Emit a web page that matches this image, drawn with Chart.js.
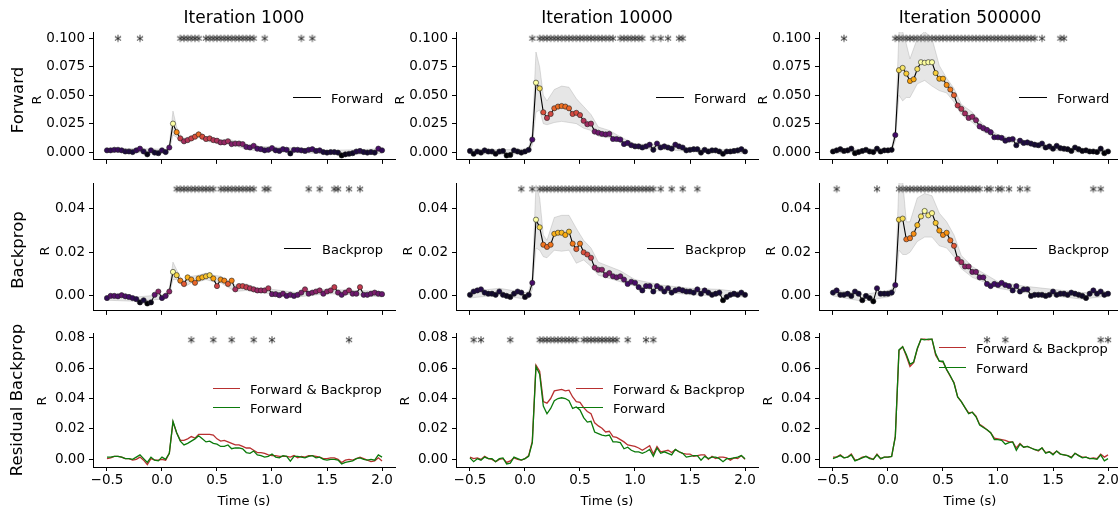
<!DOCTYPE html>
<html>
<head>
<meta charset="utf-8">
<script src="https://cdn.jsdelivr.net/npm/chart.js@4.4.0/dist/chart.umd.min.js"></script>
<style>
  body { margin: 0; width: 1118px; height: 508px; overflow: hidden; background: #fff; position: relative; font-family: "DejaVu Sans", sans-serif; }
  canvas { position: absolute; }
  .lbl { position: absolute; white-space: nowrap; color: #000; line-height: 1; }
  .leg { position: absolute; height: 0; }
</style>
</head>
<body>
<script>
// time grid: 76 samples, -0.5 s .. 2.0 s
const times = Array.from({ length: 76 }, (_, i) => -0.5 + i / 30);
const xTicks = [-0.5, 0, 0.5, 1, 1.5, 2];
const iterations = ['Iteration 1000', 'Iteration 10000', 'Iteration 500000'];
const rowNames = ['Forward', 'Backprop', 'Residual Backprop'];
const yTicksForward = [0, 0.025, 0.05, 0.075, 0.1];
const yTicksBackprop = [0, 0.02, 0.04];
const yTicksResidual = [0, 0.02, 0.04, 0.06, 0.08];

// Forward R (mean)
const fwd1000 = [0.0015,0.0015,0.002,0.002,0.0015,0.0005,0.0005,0.0,0.0015,0.003,
  0.0005,-0.002,0.0015,-0.0005,-0.001,0.0015,0.0,0.004,0.025,0.0175,
  0.012,0.0095,0.0105,0.012,0.0135,0.0155,0.0135,0.0115,0.012,0.0105,
  0.010,0.0085,0.0085,0.0095,0.007,0.0075,0.0075,0.007,0.0045,0.004,
  0.0055,0.003,0.0025,0.0015,0.002,0.0035,0.0015,0.001,0.0025,0.002,
  -0.0012,0.002,0.002,0.0015,0.001,0.002,0.0025,0.001,0.0015,0.0,
  -0.0005,0.0,0.0,-0.0005,-0.003,-0.002,-0.0015,-0.001,0.0005,0.001,
  0.0,-0.0005,0.0,-0.0005,0.003,0.0015];
const fwd10000 = [0.001,-0.0015,0.0005,-0.0005,0.0015,0.0005,0.0005,-0.0015,0.0005,0.001,
  -0.003,-0.0025,0.0015,0.0005,-0.0005,0.0005,0.002,0.011,0.061,0.056,
  0.035,0.030,0.0335,0.0385,0.040,0.0405,0.040,0.0385,0.0335,0.0345,
  0.0325,0.0275,0.0245,0.025,0.018,0.017,0.016,0.0155,0.016,0.0115,
  0.0115,0.011,0.007,0.008,0.006,0.005,0.005,0.004,0.005,0.0065,
  0.002,0.0075,0.004,0.005,0.004,0.003,0.0065,0.005,0.004,0.0015,
  0.002,0.0025,0.0025,-0.0005,0.002,0.0005,0.0015,0.0015,0.0005,-0.0015,
  0.0005,0.0005,0.001,0.0015,0.0025,0.0005];
const fwd500000 = [0.0005,0.0015,0.0025,0.001,0.0015,0.003,-0.001,0.0,0.001,0.002,
  0.0005,0.0,0.003,0.0005,0.0015,0.0015,0.002,0.015,0.072,0.074,
  0.069,0.0625,0.064,0.073,0.079,0.0785,0.079,0.079,0.0695,0.0645,
  0.0645,0.059,0.055,0.050,0.041,0.038,0.034,0.030,0.031,0.028,
  0.0225,0.021,0.0195,0.0175,0.013,0.013,0.0125,0.010,0.011,0.0115,
  0.006,0.010,0.008,0.0085,0.0075,0.0065,0.006,0.0075,0.004,0.005,
  0.003,0.0055,0.0035,0.003,0.0025,0.001,0.004,0.0025,0.001,0.0015,
  0.0005,0.0005,0.0,0.003,-0.001,0.0005];

// Backprop R (mean)
const bwd1000 = [-0.001,0.0,0.0,-0.0002,0.0003,-0.0002,-0.0005,-0.001,-0.0015,-0.003,
  -0.002,-0.0035,-0.003,0.0005,0.002,-0.001,0.0,0.002,0.011,0.0095,
  0.007,0.0055,0.0085,0.0075,0.006,0.008,0.0085,0.009,0.0095,0.008,
  0.0045,0.0075,0.007,0.0055,0.007,0.003,0.0045,0.0045,0.004,0.0035,
  0.003,0.0025,0.0025,0.0025,0.0035,0.0008,0.0008,0.0003,0.001,0.0,
  0.0005,0.0,0.0005,0.0015,0.003,0.001,0.0015,0.002,0.0025,0.001,
  0.002,0.0025,0.004,0.0015,0.0005,0.0015,0.0025,0.001,0.001,0.004,
  0.0005,0.0005,0.001,0.0015,0.001,0.0008];
const bwd10000 = [0.0005,0.002,0.0025,0.003,0.0015,0.001,0.001,0.0005,0.002,0.0005,
  0.0,-0.0005,0.001,0.002,0.0015,-0.0005,0.0005,0.006,0.035,0.0315,
  0.0235,0.0225,0.0235,0.0285,0.029,0.029,0.028,0.0295,0.024,0.0215,
  0.024,0.020,0.019,0.0175,0.013,0.012,0.012,0.0095,0.0105,0.009,
  0.0085,0.009,0.0075,0.0055,0.0065,0.006,0.004,0.0025,0.0045,0.0045,
  0.002,0.0045,0.0035,0.002,0.0035,0.0015,0.0025,0.003,0.0025,0.002,
  0.002,0.0015,0.003,0.001,0.0025,0.0015,0.0005,0.001,0.0015,-0.002,
  -0.0005,0.0005,0.001,0.0005,0.0015,0.0005];
const bwd500000 = [0.0015,0.0025,0.0005,0.0005,0.001,0.0,0.002,0.001,-0.002,0.0,
  -0.001,-0.0025,0.0035,0.001,0.001,0.001,0.0015,0.005,0.035,0.0355,
  0.026,0.0265,0.0285,0.0325,0.0365,0.039,0.037,0.038,0.0335,0.030,
  0.028,0.029,0.0255,0.023,0.017,0.0155,0.0135,0.0135,0.011,0.011,
  0.0085,0.0085,0.0055,0.0045,0.0055,0.005,0.006,0.005,0.0045,0.0025,
  0.0045,0.002,0.003,0.003,0.0,0.0005,0.0005,0.0005,0.0,0.0005,
  0.002,0.0005,0.001,0.001,0.0005,0.0015,0.001,0.0005,0.0,-0.001,
  0.001,0.0025,0.001,0.002,0.0005,0.001];

// Residual panel: Forward & Backprop R (the Forward line reuses fwd*)
const both1000 = [0.0005,0.001,0.002,0.002,0.0015,0.0005,0.0005,-0.0005,0.0,0.0015,
  -0.0005,-0.0035,0.0005,-0.0005,-0.0005,0.0,-0.0005,0.004,0.0245,0.0175,
  0.0125,0.0125,0.0135,0.015,0.014,0.0165,0.0165,0.0165,0.0165,0.016,
  0.0135,0.012,0.0125,0.0115,0.0105,0.0095,0.0095,0.0085,0.0075,0.0075,
  0.006,0.0045,0.0045,0.004,0.003,0.0025,0.0025,0.002,0.002,0.002,
  0.0015,0.0025,0.001,0.002,0.0015,0.0025,0.0025,0.002,0.0015,0.0005,
  0.0005,0.001,0.001,0.0,-0.002,-0.0005,0.0,-0.0005,0.0005,0.0015,
  0.0005,-0.0005,-0.0015,-0.001,0.001,-0.001];
const both10000 = [0.0015,0.0005,0.001,0.0,0.002,0.0005,0.0,-0.0015,0.0,0.0005,
  -0.002,-0.001,0.001,0.0,-0.0005,0.0005,0.0025,0.012,0.062,0.058,
  0.038,0.037,0.040,0.045,0.0455,0.046,0.045,0.0455,0.041,0.038,
  0.0375,0.034,0.0315,0.030,0.024,0.022,0.0205,0.018,0.0185,0.015,
  0.0145,0.013,0.0115,0.0095,0.009,0.0085,0.0075,0.006,0.0075,0.009,
  0.0035,0.0085,0.005,0.0055,0.006,0.0045,0.0065,0.005,0.004,0.0035,
  0.0035,0.002,0.0025,0.003,0.003,0.0,0.002,0.0005,0.0015,0.0015,
  0.001,-0.0005,0.001,0.0005,0.0025,0.0];
const both500000 = [0.0015,0.0015,0.003,0.001,0.0015,0.0035,-0.0005,0.0,0.0015,0.002,
  0.001,0.0,0.0035,0.0005,0.0015,0.0015,0.002,0.015,0.0715,0.074,
  0.068,0.061,0.0635,0.0725,0.079,0.079,0.0785,0.079,0.0685,0.0645,
  0.064,0.059,0.0545,0.0505,0.041,0.038,0.034,0.0305,0.031,0.0285,
  0.023,0.0215,0.0195,0.0175,0.014,0.0135,0.013,0.0125,0.0115,0.0115,
  0.0075,0.0105,0.008,0.0085,0.0075,0.0065,0.0055,0.0075,0.0045,0.005,
  0.0035,0.0055,0.0035,0.003,0.0025,0.0015,0.004,0.0025,0.0015,0.0015,
  0.0005,0.001,0.0005,0.0035,0.0015,0.003];

// shaded error band, sampled at these time indices
const bandIdx = [0, 8, 15, 16, 17, 18, 19, 20, 21, 23, 25, 27, 29, 31, 33, 35, 38, 41, 45, 52, 60, 68, 75];
const fwd1000Hi = [0.003,0.003,0.0025,0.002,0.0065,0.036,0.022,0.015,0.012,0.014,0.018,0.0135,0.0125,0.0105,0.0115,0.0095,0.0065,0.005,0.0045,0.0035,0.0015,0.002,0.003];
const fwd1000Lo = [0.0,-0.0005,-0.001,-0.001,0.0015,0.015,0.013,0.009,0.007,0.01,0.013,0.0095,0.0085,0.0065,0.0075,0.0055,0.0025,0.001,0.0005,-0.0005,-0.0015,-0.002,-0.001];
const fwd10000Hi = [0.0025,0.002,0.0025,0.004,0.017,0.088,0.075,0.05,0.045,0.055,0.058,0.057,0.047,0.04,0.033,0.022,0.019,0.0135,0.007,0.0065,0.0035,0.002,0.002];
const fwd10000Lo = [-0.0015,-0.002,-0.0015,0.0,0.006,0.035,0.037,0.025,0.024,0.026,0.027,0.026,0.025,0.021,0.019,0.014,0.0125,0.0085,0.003,0.0025,0.0005,-0.001,-0.001];
const fwd500000Hi = [0.002,0.0025,0.003,0.0035,0.02,0.106,0.106,0.095,0.082,0.1,0.106,0.1,0.076,0.065,0.056,0.042,0.035,0.024,0.015,0.0095,0.0045,0.0025,0.002];
const fwd500000Lo = [-0.001,-0.0005,0.0,0.0005,0.01,0.05,0.045,0.048,0.048,0.06,0.063,0.058,0.054,0.052,0.044,0.033,0.026,0.018,0.011,0.0065,0.0015,-0.0005,-0.001];
const bwd1000Hi = [0.0,-0.0005,0.0005,0.0012,0.0035,0.0155,0.012,0.0085,0.007,0.009,0.0095,0.0105,0.0095,0.009,0.007,0.005,0.0055,0.0035,0.003,0.0015,0.003,0.0025,0.002];
const bwd1000Lo = [-0.002,-0.0025,-0.0015,-0.0012,0.0005,0.0075,0.0075,0.0055,0.004,0.006,0.0065,0.0075,0.0065,0.006,0.004,0.002,0.0025,0.0015,0.001,-0.0005,0.001,0.0005,-0.0005];
const bwd10000Hi = [0.002,0.0035,0.0015,0.002,0.009,0.051,0.045,0.028,0.0255,0.036,0.037,0.037,0.031,0.0255,0.022,0.0155,0.0135,0.0115,0.0075,0.005,0.0035,0.003,0.0015];
const bwd10000Lo = [-0.001,0.0005,-0.0015,-0.001,0.003,0.022,0.021,0.018,0.0175,0.021,0.0205,0.021,0.015,0.0165,0.0135,0.0095,0.008,0.0065,0.0045,0.002,0.0005,0.0,-0.0005];
const bwd500000Hi = [0.003,0.0005,0.0025,0.003,0.008,0.053,0.053,0.034,0.034,0.045,0.047,0.046,0.038,0.034,0.028,0.0185,0.0135,0.0105,0.0065,0.0045,0.003,0.0015,0.002];
const bwd500000Lo = [0.0,-0.0025,-0.0005,0.0,0.002,0.021,0.019,0.019,0.02,0.025,0.027,0.027,0.023,0.022,0.018,0.0125,0.0085,0.0065,0.0035,0.0015,0.0,-0.0015,0.0];

// significance stars (time indices)
const starsFwd1000 = [3,9,20,21,22,23,24,25,27,28,29,30,31,32,33,34,35,36,37,38,39,40,43,53,56];
const starsFwd10000 = [17,19,20,21,22,23,24,25,26,27,28,29,30,31,32,33,34,35,36,37,38,39,41,42,43,44,45,46,47,50,52,54,57,58];
const starsFwd500000 = [3,17,18,19,20,21,22,23,24,25,26,27,28,29,30,31,32,33,34,35,36,37,38,39,40,41,42,43,44,45,46,47,48,49,50,51,52,53,54,55,57,62,63];
const starsBwd1000 = [19,20,21,22,23,24,25,26,27,28,29,31,32,33,34,35,36,37,38,39,40,43,44,55,58,62,63,66,69];
const starsBwd10000 = [14,17,19,20,21,22,23,24,25,26,27,28,29,30,31,32,33,34,35,36,37,38,39,40,41,42,43,44,45,46,47,48,49,50,52,55,58,62];
const starsBwd500000 = [1,12,18,19,20,21,22,23,24,25,26,27,28,29,30,31,32,33,34,35,36,37,38,39,40,42,43,45,46,48,51,53,71,73];
const starsRes1000 = [23,29,34,40,45,66];
const starsRes10000 = [1,3,11,19,20,21,22,23,24,25,26,27,28,29,31,32,33,34,35,36,37,38,39,40,43,48,50];
const starsRes500000 = [42,47,73,75];

// layout (px)
const colLeft = [93, 456, 819];
const rowTop = [30, 181, 331];
const W = 302, H = 136;
const xMin = -0.627, xMax = 2.118;
const yRange = [[-0.0069, 0.1055], [-0.0069, 0.0518], [-0.005, 0.083]];
const starY = [0.098, 0.048, 0.077];
const RED = '#b83030', GREEN = '#0b7a0b';

Chart.defaults.font.family = '"DejaVu Sans", sans-serif';

const inf = ['#000004','#160b39','#420a68','#6a176e','#932667','#bc3754','#dd513a','#f37819','#fca50a','#f6d746','#fcffa4'];
function hex(h) { return [1, 3, 5].map(k => parseInt(h.substr(k, 2), 16)); }
function inferno(f) {
  f = Math.max(0, Math.min(1, f));
  const p = f * 10, i = Math.min(9, Math.floor(p)), t = p - i;
  const a = hex(inf[i]), b = hex(inf[i + 1]);
  return 'rgb(' + a.map((v, k) => Math.round(v + (b[k] - v) * t)).join(',') + ')';
}

function makeStar() {
  const c = document.createElement('canvas');
  c.width = 16; c.height = 18;
  const g = c.getContext('2d');
  g.fillStyle = '#222';
  g.font = '15px "DejaVu Sans"';
  g.textAlign = 'center';
  g.textBaseline = 'alphabetic';
  g.fillText('*', 8, 9 + 0.555 * 15 - 2);
  return c;
}
const starImg = makeStar();

const xy = vals => times.map((t, i) => ({ x: t, y: vals[i] }));

function starSet(idx, row) {
  return { data: idx.map(k => ({ x: times[k], y: starY[row] })), showLine: false,
    pointStyle: starImg, pointRadius: 6, borderWidth: 0 };
}

function meanSets(vals, hi, lo, stars, row) {
  const mn = Math.min(...vals), mx = Math.max(...vals);
  return [
    { data: xy(vals), borderColor: '#000', borderWidth: 1.1, tension: 0,
      pointRadius: 2.6, pointBorderWidth: 0.6, pointBorderColor: '#222',
      pointBackgroundColor: vals.map(v => inferno((v - mn) / (mx - mn))) },
    { data: bandIdx.map((k, j) => ({ x: times[k], y: hi[j] })), fill: '+1', pointRadius: 0,
      borderColor: 'rgba(140,140,140,0.35)', borderWidth: 0.8, backgroundColor: 'rgba(140,140,140,0.22)' },
    { data: bandIdx.map((k, j) => ({ x: times[k], y: lo[j] })), fill: false, pointRadius: 0,
      borderColor: 'rgba(140,140,140,0.35)', borderWidth: 0.8 },
    starSet(stars, row)
  ];
}

function residualSets(both, fwd, stars) {
  return [
    { data: xy(fwd), borderColor: GREEN, borderWidth: 1.3, pointRadius: 0, tension: 0 },
    { data: xy(both), borderColor: RED, borderWidth: 1.3, pointRadius: 0, tension: 0 },
    starSet(stars, 2)
  ];
}

function fmtX(v) { return v < 0 ? '\u2212' + Math.abs(v).toFixed(1) : v.toFixed(1); }

function makePanel(r, c, datasets, yTicks, digits) {
  const L = 70, T = 10, R = 6, B = r === 2 ? 30 : 6;
  const cv = document.createElement('canvas');
  cv.width = W + L + R; cv.height = H + T + B;
  cv.style.left = (colLeft[c] - L) + 'px';
  cv.style.top = (rowTop[r] - T) + 'px';
  document.body.appendChild(cv);
  const tickFont = { size: 13.5, family: '"DejaVu Sans", sans-serif' };
  new Chart(cv, {
    type: 'line',
    data: { datasets },
    options: {
      responsive: false, animation: false, devicePixelRatio: 1,
      layout: { padding: { top: T, right: R, left: 0, bottom: 0 } },
      plugins: { legend: { display: false }, tooltip: { enabled: false } },
      scales: {
        x: {
          type: 'linear', min: xMin, max: xMax,
          afterBuildTicks: s => { s.ticks = xTicks.map(v => ({ value: v })); },
          afterFit: s => { s.height = B; },
          ticks: { display: r === 2, padding: 1, color: '#000', font: tickFont, maxRotation: 0, autoSkip: false, callback: v => fmtX(v) },
          grid: { display: true, drawOnChartArea: false, drawTicks: true, tickLength: 4, color: '#000', lineWidth: 1 },
          border: { display: true, color: '#000', width: 1 }
        },
        y: {
          min: yRange[r][0], max: yRange[r][1],
          afterBuildTicks: s => { s.ticks = yTicks.map(v => ({ value: v })); },
          afterFit: s => { s.width = L; },
          ticks: { padding: 4, color: '#000', font: tickFont, callback: v => v.toFixed(digits) },
          grid: { display: true, drawOnChartArea: false, drawTicks: true, tickLength: 4, color: '#000', lineWidth: 1 },
          border: { display: true, color: '#000', width: 1 }
        }
      }
    }
  });
}

makePanel(0, 0, meanSets(fwd1000, fwd1000Hi, fwd1000Lo, starsFwd1000, 0), yTicksForward, 3);
makePanel(0, 1, meanSets(fwd10000, fwd10000Hi, fwd10000Lo, starsFwd10000, 0), yTicksForward, 3);
makePanel(0, 2, meanSets(fwd500000, fwd500000Hi, fwd500000Lo, starsFwd500000, 0), yTicksForward, 3);
makePanel(1, 0, meanSets(bwd1000, bwd1000Hi, bwd1000Lo, starsBwd1000, 1), yTicksBackprop, 2);
makePanel(1, 1, meanSets(bwd10000, bwd10000Hi, bwd10000Lo, starsBwd10000, 1), yTicksBackprop, 2);
makePanel(1, 2, meanSets(bwd500000, bwd500000Hi, bwd500000Lo, starsBwd500000, 1), yTicksBackprop, 2);
makePanel(2, 0, residualSets(both1000, fwd1000, starsRes1000), yTicksResidual, 2);
makePanel(2, 1, residualSets(both10000, fwd10000, starsRes10000), yTicksResidual, 2);
makePanel(2, 2, residualSets(both500000, fwd500000, starsRes500000), yTicksResidual, 2);

// text
function label(text, x, y, size, rot, anchor) {
  const d = document.createElement('div');
  d.className = 'lbl';
  d.textContent = text;
  d.style.fontSize = size + 'px';
  d.style.left = x + 'px';
  d.style.top = y + 'px';
  d.style.transform = 'translate(' + (anchor === 'left' ? '0' : '-50%') + ',-50%)' + (rot ? ' rotate(-90deg)' : '');
  document.body.appendChild(d);
}
function legLine(x, y, w, color) {
  const d = document.createElement('div');
  d.className = 'leg';
  d.style.left = x + 'px'; d.style.top = (y - 1) + 'px'; d.style.width = w + 'px';
  d.style.borderTop = '1.5px solid ' + color;
  document.body.appendChild(d);
}

const rMid = rowTop.map(t => t + H / 2);
const rOffset = [57, 49, 52];
iterations.forEach((t, c) => label(t, colLeft[c] + W / 2, 17, 17));
label(rowNames[0], 18, 100, 16.5, true);
label(rowNames[1], 18, 250, 16.5, true);
label(rowNames[2], 17, 400, 16.5, true);
for (let c = 0; c < 3; c++) {
  for (let r = 0; r < 3; r++) label('R', colLeft[c] - rOffset[r], rMid[r] + 2, 13, true);
  label('Time (s)', colLeft[c] + W / 2, 500, 13);
  const x0 = colLeft[c];
  legLine(x0 + 200, 98, 28, '#000'); label('Forward', x0 + 238, 98, 13, false, 'left');
  legLine(x0 + 191, 249, 27, '#000'); label('Backprop', x0 + 229, 249, 13, false, 'left');
  const ly = c === 2 ? [348, 368] : [389, 408];
  legLine(x0 + 120, ly[0], 27, RED); label('Forward & Backprop', x0 + 157, ly[0], 13, false, 'left');
  legLine(x0 + 120, ly[1], 27, GREEN); label('Forward', x0 + 157, ly[1], 13, false, 'left');
}
</script>
</body>
</html>
